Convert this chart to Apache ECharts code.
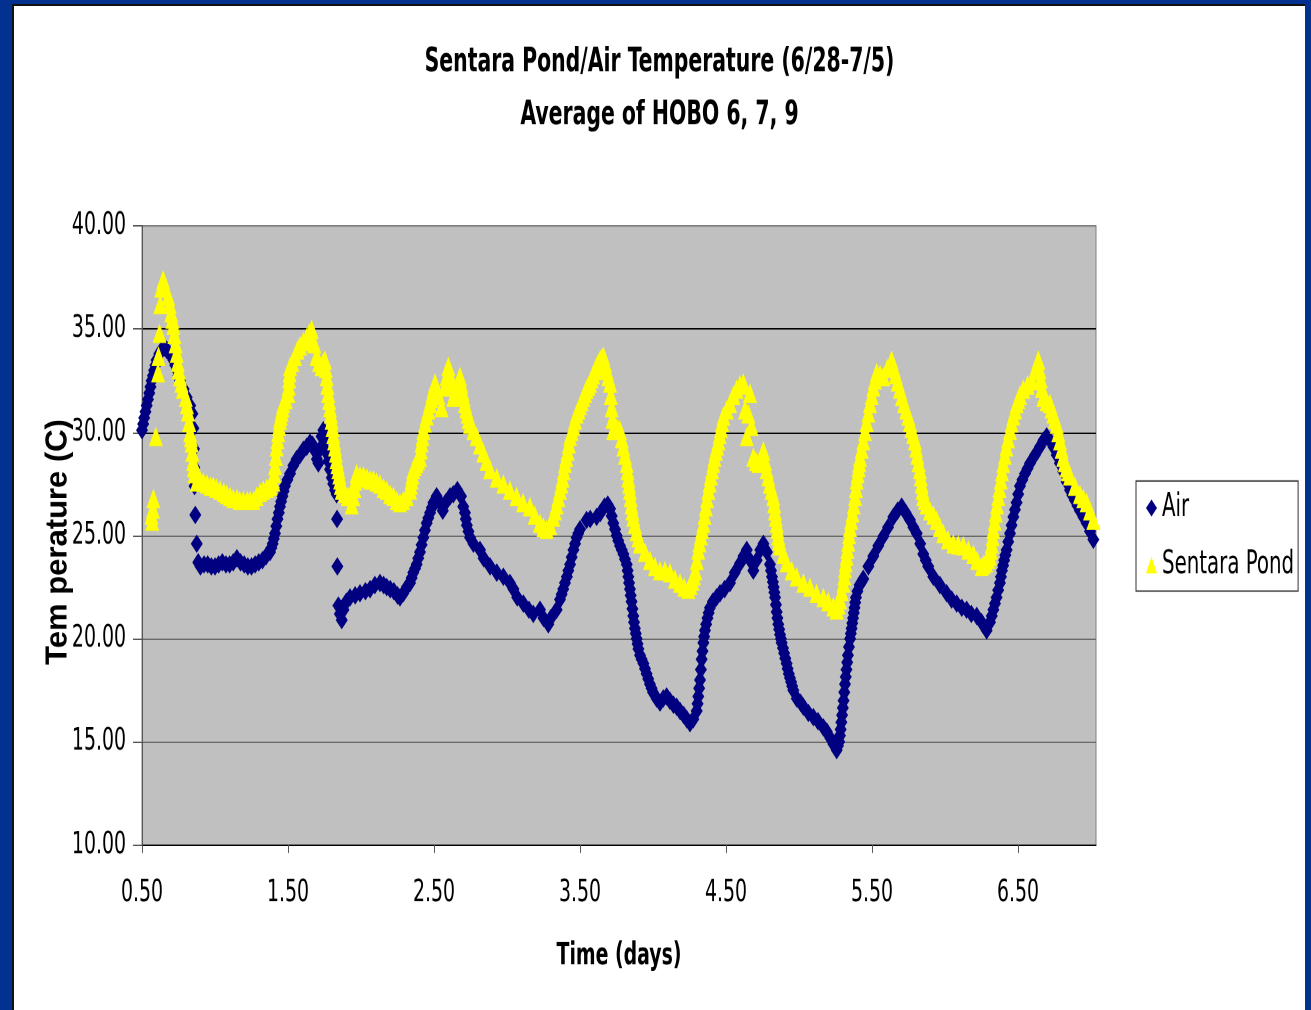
<!DOCTYPE html>
<html>
    <head>
        <meta charset="utf-8">
        <script src="https://cdn.jsdelivr.net/npm/echarts@6/dist/echarts.min.js"></script>
    </head>
    <body>
        <style>
            html, body {
                width: 100%;
                height: 100%;
                margin: 0;
                background: #03318f;
                overflow: hidden;
            }
            #frame {
                position: absolute;
                left: 12px;
                top: 4px;
                width: 1293px;
                height: 1006px;
                box-sizing: border-box;
                background: #fff;
                border-left: 2px solid #111;
                border-top: 2px solid #111;
            }
            /* the source slide is stretched vertically, so the chart is drawn
               squat and scaled up in y */
            #main {
                width: 1291px;
                height: 692px;
                transform: scaleY(1.45087);
                transform-origin: 0 0;
            }
        </style>
        <div id="frame"><div id="main"></div></div>
        <script>

            var titleText = 'Sentara Pond/Air Temperature (6/28-7/5)\nAverage of HOBO 6, 7, 9';
            var xName = 'Time (days)';
            var yName = 'Tem perature (C)';
            var xTicks = [0.5, 1.5, 2.5, 3.5, 4.5, 5.5, 6.5];

            // [day, temp C]
            var air = [
                [0.50, 30.1], [0.508, 30.4], [0.515, 30.7], [0.524, 31.0], [0.532, 31.3], [0.541, 31.6],
                [0.55, 31.9], [0.558, 32.2], [0.566, 32.5], [0.575, 32.75], [0.583, 33.0], [0.592, 33.25],
                [0.60, 33.5], [0.618, 33.8], [0.635, 34.0], [0.652, 34.1], [0.669, 34.0], [0.69, 33.8],
                [0.715, 33.5], [0.728, 33.25], [0.74, 33.0], [0.75, 32.75], [0.76, 32.5], [0.785, 32.1],
                [0.806, 31.7], [0.83, 31.3], [0.845, 30.9], [0.852, 30.2], [0.856, 29.2], [0.858, 28.3],
                [0.86, 27.4], [0.865, 26.0], [0.875, 24.6], [0.885, 23.7], [0.90, 23.5], [0.925, 23.6],
                [0.95, 23.6], [0.975, 23.5], [1.00, 23.5], [1.025, 23.6], [1.05, 23.7], [1.075, 23.6],
                [1.10, 23.6], [1.125, 23.7], [1.15, 23.9], [1.175, 23.7], [1.20, 23.6], [1.225, 23.5],
                [1.25, 23.5], [1.275, 23.6], [1.30, 23.7], [1.325, 23.8], [1.35, 24.0], [1.377, 24.2],
                [1.386, 24.4], [1.395, 24.6], [1.403, 24.85], [1.411, 25.1], [1.42, 25.45], [1.428, 25.8],
                [1.437, 26.1], [1.445, 26.4], [1.453, 26.65], [1.462, 26.9], [1.47, 27.15], [1.479, 27.4],
                [1.496, 27.7], [1.514, 28.0], [1.537, 28.4], [1.559, 28.7], [1.582, 28.9], [1.605, 29.15],
                [1.628, 29.3], [1.651, 29.5], [1.668, 29.4], [1.685, 29.1], [1.698, 28.7], [1.708, 28.5],
                [1.72, 29.2], [1.73, 29.8], [1.742, 30.1], [1.753, 29.6], [1.765, 29.0], [1.777, 28.6],
                [1.788, 28.2], [1.80, 27.8], [1.81, 27.5], [1.822, 27.2], [1.833, 27.0], [1.836, 25.8],
                [1.838, 23.5], [1.845, 21.6], [1.855, 21.2], [1.868, 20.9], [1.88, 21.4], [1.90, 21.8],
                [1.925, 22.0], [1.96, 22.1], [1.993, 22.2], [2.03, 22.3], [2.062, 22.4], [2.095, 22.6],
                [2.13, 22.7], [2.155, 22.6], [2.176, 22.5], [2.20, 22.4], [2.225, 22.3], [2.25, 22.1],
                [2.267, 22.0], [2.29, 22.2], [2.314, 22.5], [2.336, 22.7], [2.347, 22.95], [2.358, 23.2],
                [2.37, 23.4], [2.381, 23.6], [2.392, 23.9], [2.404, 24.2], [2.415, 24.55], [2.427, 24.9],
                [2.438, 25.25], [2.45, 25.6], [2.461, 25.85], [2.473, 26.1], [2.485, 26.35], [2.496, 26.6],
                [2.518, 26.9], [2.54, 26.6], [2.56, 26.2], [2.58, 26.6], [2.61, 26.9], [2.632, 27.0],
                [2.66, 27.2], [2.685, 26.9], [2.70, 26.4], [2.712, 26.1], [2.718, 25.8], [2.725, 25.5],
                [2.736, 25.2], [2.747, 24.9], [2.77, 24.6], [2.815, 24.3], [2.84, 23.9], [2.884, 23.5],
                [2.93, 23.2], [2.975, 23.0], [3.02, 22.7], [3.044, 22.4], [3.07, 22.0], [3.112, 21.7],
                [3.15, 21.4], [3.18, 21.2], [3.226, 21.4], [3.25, 21.0], [3.283, 20.7], [3.30, 21.0],
                [3.34, 21.4], [3.363, 21.9], [3.374, 22.15], [3.385, 22.4], [3.397, 22.7], [3.41, 23.0],
                [3.42, 23.3], [3.432, 23.6], [3.443, 23.95], [3.455, 24.3], [3.466, 24.6], [3.477, 24.9],
                [3.488, 25.1], [3.50, 25.3], [3.545, 25.75], [3.57, 25.8], [3.614, 25.9], [3.64, 26.1],
                [3.668, 26.4], [3.69, 26.5], [3.706, 26.3], [3.717, 25.95], [3.728, 25.6], [3.74, 25.3],
                [3.751, 25.0], [3.762, 24.75], [3.774, 24.5], [3.786, 24.3], [3.797, 24.1], [3.808, 23.85],
                [3.82, 23.6], [3.826, 23.3], [3.831, 23.0], [3.836, 22.7], [3.842, 22.4], [3.847, 22.1],
                [3.853, 21.8], [3.859, 21.45], [3.865, 21.1], [3.87, 20.8], [3.876, 20.5], [3.882, 20.25],
                [3.888, 20.0], [3.894, 19.75], [3.90, 19.5], [3.911, 19.2], [3.922, 19.0], [3.934, 18.8],
                [3.945, 18.55], [3.956, 18.3], [3.967, 18.05], [3.979, 17.8], [3.99, 17.6], [4.00, 17.4],
                [4.025, 17.1], [4.048, 16.9], [4.07, 17.1], [4.093, 17.2], [4.115, 17.0], [4.14, 16.8],
                [4.162, 16.7], [4.185, 16.5], [4.21, 16.3], [4.231, 16.1], [4.253, 15.9], [4.276, 16.1],
                [4.299, 16.5], [4.305, 16.85], [4.31, 17.2], [4.316, 17.6], [4.322, 18.0], [4.328, 18.5],
                [4.333, 19.0], [4.339, 19.4], [4.345, 19.8], [4.35, 20.1], [4.356, 20.4], [4.364, 20.7],
                [4.373, 21.0], [4.381, 21.25], [4.39, 21.5], [4.41, 21.8], [4.435, 22.0], [4.459, 22.2],
                [4.49, 22.4], [4.527, 22.7], [4.56, 23.2], [4.596, 23.65], [4.62, 24.0], [4.642, 24.3],
                [4.665, 23.8], [4.687, 23.3], [4.71, 23.8], [4.735, 24.3], [4.756, 24.6], [4.78, 24.2],
                [4.801, 23.6], [4.808, 23.3], [4.815, 23.0], [4.821, 22.75], [4.826, 22.5], [4.831, 22.25],
                [4.836, 22.0], [4.842, 21.65], [4.847, 21.3], [4.852, 21.0], [4.858, 20.7], [4.864, 20.45],
                [4.87, 20.2], [4.876, 20.0], [4.881, 19.8], [4.89, 19.55], [4.898, 19.3], [4.906, 19.05],
                [4.915, 18.8], [4.922, 18.55], [4.93, 18.3], [4.938, 18.1], [4.946, 17.9], [4.953, 17.7],
                [4.961, 17.5], [4.985, 17.1], [5.01, 16.9], [5.03, 16.7], [5.064, 16.4], [5.098, 16.2],
                [5.13, 16.0], [5.167, 15.7], [5.19, 15.5], [5.213, 15.2], [5.235, 14.9], [5.258, 14.6],
                [5.266, 14.8], [5.275, 15.0], [5.28, 15.3], [5.285, 15.6], [5.29, 15.95], [5.295, 16.3],
                [5.30, 16.65], [5.305, 17.0], [5.31, 17.4], [5.315, 17.8], [5.32, 18.15], [5.325, 18.5],
                [5.33, 18.85], [5.335, 19.2], [5.342, 19.6], [5.35, 20.0], [5.355, 20.25], [5.36, 20.5],
                [5.365, 20.75], [5.37, 21.0], [5.375, 21.25], [5.38, 21.5], [5.385, 21.75], [5.39, 22.0],
                [5.40, 22.3], [5.415, 22.6], [5.428, 22.75], [5.44, 22.9], [5.475, 23.5], [5.509, 24.0],
                [5.543, 24.5], [5.577, 24.95], [5.61, 25.4], [5.646, 25.9], [5.675, 26.2], [5.703, 26.4],
                [5.73, 26.1], [5.76, 25.75], [5.783, 25.4], [5.806, 25.1], [5.83, 24.6], [5.851, 24.1],
                [5.868, 23.8], [5.885, 23.5], [5.92, 23.0], [5.965, 22.6], [6.011, 22.2], [6.045, 21.9],
                [6.08, 21.7], [6.115, 21.5], [6.148, 21.4], [6.18, 21.2], [6.217, 21.1], [6.25, 20.8],
                [6.285, 20.4], [6.308, 20.8], [6.32, 21.1], [6.331, 21.4], [6.342, 21.7], [6.353, 22.0],
                [6.364, 22.35], [6.376, 22.7], [6.383, 23.0], [6.39, 23.3], [6.398, 23.55], [6.405, 23.8],
                [6.413, 24.05], [6.422, 24.3], [6.433, 24.7], [6.445, 25.1], [6.456, 25.5], [6.468, 25.9],
                [6.479, 26.25], [6.49, 26.6], [6.501, 27.0], [6.513, 27.4], [6.53, 27.7], [6.548, 28.0],
                [6.565, 28.25], [6.582, 28.5], [6.616, 28.9], [6.65, 29.3], [6.673, 29.6], [6.696, 29.8],
                [6.72, 29.6], [6.742, 29.3], [6.765, 28.9], [6.787, 28.5], [6.81, 28.1], [6.833, 27.6],
                [6.856, 27.2], [6.872, 26.95], [6.89, 26.7], [6.907, 26.45], [6.924, 26.2], [6.947, 25.9],
                [6.97, 25.6], [6.993, 25.2], [7.016, 24.8]
            ];

            var pond = [
                [0.565, 26.0], [0.57, 25.7], [0.575, 26.3], [0.578, 26.8], [0.595, 29.8], [0.61, 32.9],
                [0.613, 33.7], [0.62, 34.8], [0.625, 36.2], [0.632, 37.0], [0.645, 37.4], [0.66, 37.0],
                [0.68, 36.6], [0.69, 36.2], [0.70, 35.8], [0.708, 35.5], [0.715, 35.2], [0.722, 34.75],
                [0.73, 34.3], [0.738, 33.85], [0.745, 33.4], [0.752, 33.05], [0.76, 32.7], [0.77, 32.4],
                [0.78, 32.1], [0.80, 31.7], [0.808, 31.35], [0.815, 31.0], [0.823, 30.5], [0.83, 30.0],
                [0.835, 29.75], [0.84, 29.5], [0.845, 29.05], [0.85, 28.6], [0.855, 28.3], [0.86, 28.0],
                [0.875, 27.6], [0.897, 27.7], [0.92, 27.6], [0.945, 27.5], [0.97, 27.4], [0.989, 27.4],
                [1.01, 27.3], [1.035, 27.2], [1.06, 27.1], [1.08, 27.0], [1.103, 26.9], [1.125, 26.8],
                [1.15, 26.8], [1.17, 26.7], [1.194, 26.7], [1.22, 26.7], [1.24, 26.7], [1.263, 26.7],
                [1.285, 26.9], [1.31, 27.1], [1.331, 27.2], [1.355, 27.3], [1.38, 27.4], [1.40, 27.6],
                [1.406, 28.0], [1.411, 28.4], [1.417, 28.85], [1.422, 29.3], [1.428, 29.65], [1.433, 30.0],
                [1.439, 30.3], [1.445, 30.6], [1.45, 30.8], [1.456, 31.0], [1.462, 31.2], [1.468, 31.4],
                [1.485, 31.6], [1.502, 31.9], [1.505, 32.25], [1.508, 32.6], [1.511, 32.9], [1.514, 33.2],
                [1.53, 33.4], [1.548, 33.7], [1.565, 34.0], [1.582, 34.2], [1.605, 34.4], [1.628, 34.6],
                [1.645, 34.8], [1.662, 35.0], [1.68, 34.3], [1.696, 33.7], [1.713, 33.4], [1.73, 33.2],
                [1.742, 33.4], [1.753, 33.5], [1.759, 33.1], [1.765, 32.7], [1.77, 32.3], [1.776, 31.9],
                [1.782, 31.55], [1.788, 31.2], [1.794, 30.9], [1.799, 30.6], [1.805, 30.25], [1.81, 29.9],
                [1.816, 29.6], [1.822, 29.3], [1.828, 29.0], [1.833, 28.7], [1.839, 28.45], [1.845, 28.2],
                [1.851, 27.95], [1.857, 27.7], [1.862, 27.45], [1.868, 27.2], [1.89, 27.05], [1.91, 26.9],
                [1.936, 26.5], [1.946, 26.9], [1.955, 27.3], [1.962, 27.65], [1.97, 28.0], [1.993, 27.9],
                [2.016, 27.9], [2.04, 27.8], [2.062, 27.7], [2.084, 27.7], [2.107, 27.6], [2.13, 27.5],
                [2.155, 27.3], [2.176, 27.2], [2.20, 27.0], [2.222, 26.9], [2.245, 26.7], [2.267, 26.6],
                [2.29, 26.7], [2.313, 26.9], [2.336, 27.2], [2.341, 27.45], [2.347, 27.7], [2.352, 27.95],
                [2.358, 28.2], [2.369, 28.35], [2.38, 28.5], [2.392, 28.65], [2.404, 28.8], [2.41, 29.15],
                [2.415, 29.5], [2.421, 29.8], [2.427, 30.1], [2.438, 30.45], [2.45, 30.8], [2.461, 31.1],
                [2.473, 31.4], [2.482, 31.65], [2.49, 31.9], [2.498, 32.15], [2.507, 32.4], [2.53, 31.8],
                [2.552, 31.2], [2.575, 32.2], [2.586, 32.7], [2.598, 33.2], [2.607, 32.8], [2.615, 32.4],
                [2.632, 31.7], [2.643, 31.95], [2.655, 32.2], [2.666, 32.45], [2.678, 32.7], [2.687, 32.35],
                [2.695, 32.0], [2.704, 31.7], [2.712, 31.4], [2.721, 31.15], [2.73, 30.9], [2.738, 30.65],
                [2.747, 30.4], [2.77, 30.1], [2.792, 29.8], [2.815, 29.4], [2.838, 29.0], [2.86, 28.6],
                [2.884, 28.2], [2.93, 27.8], [2.975, 27.5], [3.02, 27.2], [3.066, 26.9], [3.11, 26.6],
                [3.157, 26.4], [3.19, 26.0], [3.226, 25.6], [3.25, 25.4], [3.272, 25.3], [3.295, 25.5],
                [3.317, 25.9], [3.328, 26.2], [3.34, 26.5], [3.351, 26.85], [3.363, 27.2], [3.372, 27.5],
                [3.38, 27.8], [3.389, 28.15], [3.397, 28.5], [3.406, 28.8], [3.415, 29.1], [3.424, 29.45],
                [3.432, 29.8], [3.443, 30.05], [3.455, 30.3], [3.466, 30.6], [3.477, 30.9], [3.489, 31.1],
                [3.50, 31.3], [3.511, 31.5], [3.523, 31.7], [3.534, 31.9], [3.545, 32.1], [3.557, 32.25],
                [3.568, 32.4], [3.579, 32.6], [3.59, 32.8], [3.602, 33.0], [3.614, 33.2], [3.625, 33.35],
                [3.637, 33.5], [3.648, 33.6], [3.66, 33.7], [3.672, 33.35], [3.683, 33.0], [3.694, 32.7],
                [3.706, 32.4], [3.711, 31.8], [3.717, 31.2], [3.722, 30.65], [3.728, 30.1], [3.739, 30.15],
                [3.75, 30.2], [3.762, 30.15], [3.774, 30.1], [3.786, 29.7], [3.797, 29.3], [3.808, 28.9],
                [3.82, 28.5], [3.826, 28.15], [3.831, 27.8], [3.836, 27.5], [3.842, 27.2], [3.847, 26.85],
                [3.853, 26.5], [3.859, 26.2], [3.865, 25.9], [3.876, 25.55], [3.888, 25.2], [3.90, 24.9],
                [3.911, 24.6], [3.945, 24.2], [3.979, 23.8], [4.013, 23.5], [4.048, 23.3], [4.082, 23.3],
                [4.116, 23.2], [4.15, 22.9], [4.185, 22.7], [4.213, 22.5], [4.242, 22.4], [4.256, 22.6],
                [4.27, 22.8], [4.28, 23.05], [4.29, 23.3], [4.30, 23.8], [4.31, 24.3], [4.318, 24.65],
                [4.327, 25.0], [4.336, 25.3], [4.345, 25.6], [4.353, 26.0], [4.362, 26.4], [4.37, 26.8],
                [4.379, 27.2], [4.388, 27.55], [4.396, 27.9], [4.405, 28.2], [4.413, 28.5], [4.421, 28.8],
                [4.43, 29.1], [4.439, 29.35], [4.448, 29.6], [4.457, 29.9], [4.465, 30.2], [4.473, 30.5],
                [4.482, 30.8], [4.505, 31.1], [4.527, 31.4], [4.55, 31.8], [4.573, 32.1], [4.596, 32.3],
                [4.619, 32.4], [4.63, 31.1], [4.642, 29.8], [4.653, 30.9], [4.664, 31.9], [4.675, 30.3],
                [4.687, 28.8], [4.705, 28.6], [4.722, 28.5], [4.74, 28.8], [4.756, 29.1], [4.768, 28.6],
                [4.779, 28.2], [4.79, 27.85], [4.80, 27.5], [4.812, 27.2], [4.824, 26.9], [4.83, 26.55],
                [4.835, 26.2], [4.841, 25.9], [4.847, 25.6], [4.852, 25.3], [4.858, 25.0], [4.864, 24.75],
                [4.87, 24.5], [4.893, 24.1], [4.916, 23.7], [4.95, 23.3], [4.984, 23.0], [5.03, 22.7],
                [5.075, 22.5], [5.12, 22.2], [5.167, 22.0], [5.20, 21.8], [5.235, 21.55], [5.258, 21.4],
                [5.27, 21.65], [5.28, 21.9], [5.292, 22.3], [5.304, 22.7], [5.31, 23.05], [5.315, 23.4],
                [5.32, 23.7], [5.326, 24.0], [5.331, 24.35], [5.337, 24.7], [5.343, 25.05], [5.349, 25.4],
                [5.357, 25.75], [5.366, 26.1], [5.375, 26.5], [5.384, 26.9], [5.39, 27.3], [5.395, 27.7],
                [5.402, 28.0], [5.408, 28.3], [5.413, 28.55], [5.418, 28.8], [5.429, 29.2], [5.44, 29.6],
                [5.452, 30.05], [5.463, 30.5], [5.475, 30.95], [5.486, 31.4], [5.498, 31.8], [5.509, 32.2],
                [5.52, 32.55], [5.532, 32.9], [5.555, 32.8], [5.577, 32.7], [5.605, 33.1], [5.634, 33.5],
                [5.648, 33.15], [5.662, 32.8], [5.676, 32.45], [5.691, 32.1], [5.705, 31.75], [5.72, 31.4],
                [5.734, 31.1], [5.749, 30.8], [5.76, 30.5], [5.77, 30.2], [5.782, 29.9], [5.794, 29.6],
                [5.802, 29.25], [5.81, 28.9], [5.819, 28.55], [5.828, 28.2], [5.834, 27.85], [5.84, 27.5],
                [5.846, 27.2], [5.851, 26.9], [5.862, 26.7], [5.874, 26.5], [5.897, 26.2], [5.92, 26.0],
                [5.943, 25.75], [5.965, 25.4], [5.988, 25.1], [6.02, 24.8], [6.057, 24.6], [6.09, 24.55],
                [6.125, 24.5], [6.16, 24.3], [6.194, 24.1], [6.22, 23.8], [6.251, 23.5], [6.265, 23.6],
                [6.28, 23.7], [6.294, 23.85], [6.308, 24.0], [6.314, 24.3], [6.32, 24.6], [6.326, 24.95],
                [6.331, 25.3], [6.34, 25.7], [6.348, 26.1], [6.356, 26.5], [6.365, 26.9], [6.373, 27.3],
                [6.382, 27.7], [6.39, 28.1], [6.399, 28.5], [6.41, 28.9], [6.42, 29.3], [6.432, 29.7],
                [6.445, 30.1], [6.456, 30.45], [6.468, 30.8], [6.48, 31.1], [6.491, 31.4], [6.502, 31.6],
                [6.513, 31.8], [6.536, 32.1], [6.565, 32.3], [6.593, 32.5], [6.616, 33.0], [6.639, 33.5],
                [6.647, 33.05], [6.656, 32.6], [6.664, 32.15], [6.673, 31.7], [6.696, 31.5], [6.719, 31.4],
                [6.73, 31.15], [6.742, 30.9], [6.753, 30.65], [6.765, 30.4], [6.776, 30.0], [6.788, 29.6],
                [6.799, 29.2], [6.81, 28.8], [6.821, 28.55], [6.833, 28.3], [6.844, 28.1], [6.856, 27.9],
                [6.89, 27.4], [6.924, 27.0], [6.947, 26.8], [6.97, 26.6], [6.993, 26.2], [7.016, 25.75]
            ];

            var stretch = 1004 / 692;
            var narrow = "'DejaVu Sans Condensed', 'Liberation Sans Narrow', sans-serif";

            var chart = echarts.init(document.getElementById('main'), null, { devicePixelRatio: 2 });

            chart.setOption({
                animation: false,
                backgroundColor: '#fff',
                title: {
                    text: titleText,
                    left: 'center',
                    top: 21,
                    padding: 0,
                    textStyle: {
                        fontFamily: narrow,
                        fontWeight: 'bold',
                        fontSize: 22.7,
                        lineHeight: 36.5,
                        color: '#000'
                    }
                },
                // y title drawn by hand so the rotated text is not stretched along its length
                graphic: [{
                    type: 'text',
                    x: 44,
                    y: 369.4,
                    rotation: Math.PI / 2,
                    scaleX: 1 / stretch,
                    style: {
                        text: yName,
                        font: "bold 31px 'Liberation Sans', Arial, sans-serif",
                        fill: '#000',
                        align: 'center',
                        verticalAlign: 'middle'
                    }
                }],
                legend: {
                    orient: 'vertical',
                    left: 1122,
                    top: 327.4,
                    padding: [7.6, 4, 6.9, 10],
                    itemGap: 17.3,
                    itemWidth: 11,
                    itemHeight: 11.7,
                    backgroundColor: '#fff',
                    borderColor: '#333',
                    borderWidth: 1,
                    borderRadius: 0,
                    textStyle: {
                        fontFamily: narrow,
                        fontSize: 22,
                        color: '#000'
                    },
                    data: [
                        { name: 'Air', icon: 'diamond' },
                        { name: 'Sentara Pond', icon: 'triangle' }
                    ]
                },
                grid: {
                    left: 128,
                    top: 151.6,
                    width: 954,
                    height: 426.7,
                    outerBoundsMode: 'none',
                    show: true,
                    backgroundColor: '#c0c0c0',
                    borderColor: '#808080',
                    borderWidth: 1
                },
                xAxis: {
                    type: 'value',
                    min: 0.5,
                    max: 7.034,
                    name: xName,
                    nameLocation: 'middle',
                    nameGap: 66,
                    nameTextStyle: {
                        fontFamily: narrow,
                        fontWeight: 'bold',
                        fontSize: 21,
                        color: '#000'
                    },
                    axisLine: { lineStyle: { color: '#000', width: 1 } },
                    axisTick: {
                        customValues: xTicks,
                        length: 5.5,
                        lineStyle: { color: '#555' }
                    },
                    axisLabel: {
                        customValues: xTicks,
                        margin: 22.5,
                        fontFamily: narrow,
                        fontSize: 21,
                        color: '#000',
                        formatter: function (v) { return v.toFixed(2); }
                    },
                    splitLine: { show: false }
                },
                yAxis: {
                    type: 'value',
                    min: 10,
                    max: 40,
                    interval: 5,
                    axisLine: { show: true, lineStyle: { color: '#555' } },
                    axisTick: { show: true, length: 9, lineStyle: { color: '#555' } },
                    axisLabel: {
                        margin: 16,
                        fontFamily: narrow,
                        fontSize: 21,
                        color: '#000',
                        formatter: function (v) { return v.toFixed(2); }
                    },
                    splitLine: {
                        show: true,
                        lineStyle: {
                            color: ['#808080', '#6a6a6a', '#6a6a6a', '#6a6a6a', '#000', '#000', '#808080'],
                            width: 1
                        }
                    }
                },
                series: [{
                    name: 'Air',
                    type: 'scatter',
                    symbol: 'diamond',
                    symbolSize: [12, 12.8],
                    itemStyle: { color: '#000080', opacity: 1 },
                    data: air
                }, {
                    name: 'Sentara Pond',
                    type: 'scatter',
                    symbol: 'triangle',
                    symbolSize: [14, 13.5],
                    itemStyle: { color: '#ffff00', opacity: 1 },
                    data: pond
                }]
            });

        </script>
    </body>
</html>
